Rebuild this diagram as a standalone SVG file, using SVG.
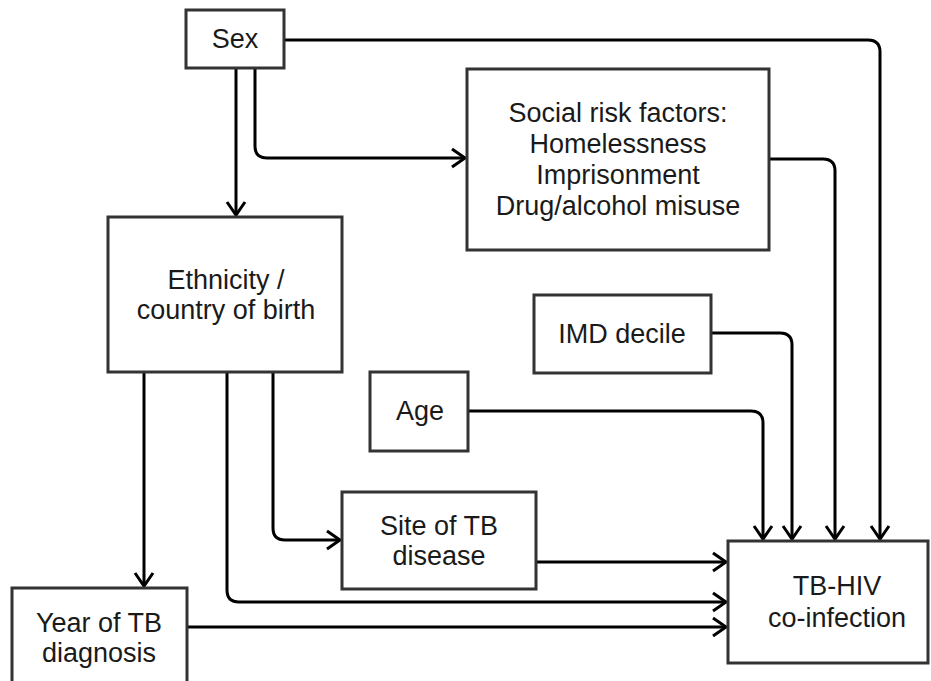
<svg xmlns="http://www.w3.org/2000/svg" width="931" height="681" viewBox="0 0 931 681">
  <style>
    .box { fill: #fff; stroke: #333; stroke-width: 3; }
    .lbl { font-family: "Liberation Sans", Arial, sans-serif; font-size: 27px; fill: #1a1a1a; text-anchor: middle; }
    .edge { fill: none; stroke: #000; stroke-width: 3; marker-end: url(#arr); }
  </style>
  <defs>
    <marker id="arr" viewBox="-18 -12 22 24" refX="0" refY="0" markerWidth="22" markerHeight="24" orient="auto" markerUnits="userSpaceOnUse">
      <path d="M-13,-9 L0,0 L-13,9" fill="none" stroke="#000" stroke-width="3"/>
    </marker>
  </defs>
  <rect width="931" height="681" fill="#fff"/>

  <g id="connectors">
    <!-- Sex -> TB-HIV -->
    <path class="edge" d="M284,40 H868 Q880,40 880,52 V539"/>
    <!-- Sex -> Social risk factors -->
    <path class="edge" d="M255,68 V146 Q255,158 267,158 H465"/>
    <!-- Sex -> Ethnicity -->
    <path class="edge" d="M236,68 V215"/>
    <!-- Social risk factors -> TB-HIV -->
    <path class="edge" d="M769,159 H823 Q835,159 835,171 V539"/>
    <!-- IMD decile -> TB-HIV -->
    <path class="edge" d="M711,333 H780 Q792,333 792,345 V539"/>
    <!-- Age -> TB-HIV -->
    <path class="edge" d="M468,411 H751 Q763,411 763,423 V539"/>
    <!-- Ethnicity -> Year of TB diagnosis -->
    <path class="edge" d="M144,372 V586"/>
    <!-- Ethnicity -> TB-HIV -->
    <path class="edge" d="M227,372 V590 Q227,602 239,602 H726"/>
    <!-- Ethnicity -> Site of TB disease -->
    <path class="edge" d="M273,372 V528 Q273,540 285,540 H340"/>
    <!-- Site of TB disease -> TB-HIV -->
    <path class="edge" d="M536,562 H726"/>
    <!-- Year of TB diagnosis -> TB-HIV -->
    <path class="edge" d="M187,627 H726"/>
  </g>

  <g id="sex">
    <rect class="box" x="186" y="10" width="98" height="58"/>
    <text class="lbl" x="235" y="48">Sex</text>
  </g>

  <g id="social">
    <rect class="box" x="467" y="69" width="302" height="181"/>
    <text class="lbl" x="618" y="122">Social risk factors:</text>
    <text class="lbl" x="618" y="153">Homelessness</text>
    <text class="lbl" x="618" y="184">Imprisonment</text>
    <text class="lbl" x="618" y="215">Drug/alcohol misuse</text>
  </g>

  <g id="ethnicity">
    <rect class="box" x="108" y="217" width="234" height="155"/>
    <text class="lbl" x="226" y="289">Ethnicity /</text>
    <text class="lbl" x="226" y="319">country of birth</text>
  </g>

  <g id="imd">
    <rect class="box" x="534" y="295" width="177" height="78"/>
    <text class="lbl" x="622" y="343">IMD decile</text>
  </g>

  <g id="age">
    <rect class="box" x="370" y="372" width="98" height="79"/>
    <text class="lbl" x="420" y="420">Age</text>
  </g>

  <g id="site">
    <rect class="box" x="342" y="492" width="194" height="97"/>
    <text class="lbl" x="439" y="535">Site of TB</text>
    <text class="lbl" x="439" y="565">disease</text>
  </g>

  <g id="year">
    <rect class="box" x="12" y="588" width="175" height="100"/>
    <text class="lbl" x="99" y="632">Year of TB</text>
    <text class="lbl" x="99" y="662">diagnosis</text>
  </g>

  <g id="tbhiv">
    <rect class="box" x="728" y="541" width="200" height="122"/>
    <text class="lbl" x="837" y="595">TB-HIV</text>
    <text class="lbl" x="837" y="627">co-infection</text>
  </g>
</svg>
